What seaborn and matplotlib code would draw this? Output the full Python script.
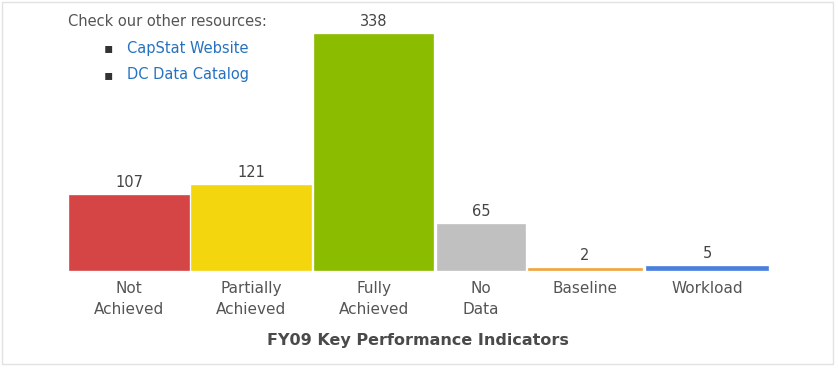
import matplotlib
matplotlib.use("Agg")
import matplotlib.pyplot as plt
import seaborn as sns
from matplotlib.patches import Rectangle

# Data
categories = ["Not\nAchieved", "Partially\nAchieved", "Fully\nAchieved", "No\nData", "Baseline", "Workload"]
counts = [107, 121, 338, 65, 2, 5]
bar_colors = ["#D64545", "#F4D60F", "#8CBC00", "#C0C0C0", "#F0A43C", "#4A7FE0"]
title = "FY09 Key Performance Indicators"
links = ["CapStat Website", "DC Data Catalog"]

# layout: bar widths and gaps (axis units, roughly pixels)
bar_widths = [119, 119, 118, 87, 113, 121]
bar_gaps = [0.5, 3, 4, 5, 4, 5]

sns.set_style("white")
plt.rcParams["font.family"] = ["DejaVu Sans"]

fig = plt.figure(figsize=(8.38, 3.68), dpi=100)
ax = fig.add_axes([69 / 838, 1 - 270 / 368, 699 / 838, 235 / 368])

sns.barplot(x=list(range(len(categories))), y=counts, hue=list(range(len(categories))),
            palette=bar_colors, legend=False, ax=ax, saturation=1, width=0.9)

# place bars with their own widths
left = 0
centers = []
for patch, w, g, col in zip(ax.patches, bar_widths, bar_gaps, bar_colors):
    left += g
    patch.set_x(left)
    patch.set_width(w)
    patch.set_edgecolor(col)
    patch.set_linewidth(1.2)
    patch.set_clip_on(False)
    centers.append(left + w / 2)
    left += w

ax.set_xlim(0, left + 0.5)
ax.set_ylim(0, max(counts))
ax.set_xticks(centers)
ax.set_xticklabels(categories, fontsize=11, color="#555555", linespacing=1.45)
ax.tick_params(axis="x", length=0, pad=8)
ax.set_yticks([])
for s in ax.spines.values():
    s.set_visible(False)

for c, v in zip(centers, counts):
    ax.annotate(str(v), (c, v), xytext=(0, 4), textcoords="offset points",
                ha="center", va="bottom", fontsize=10.5, color="#444444")

fig.text(418 / 838, 1 - 341 / 368, title, ha="center", va="center",
         fontsize=11.5, fontweight="bold", color="#4a4a4a")

# resource note at top left
fig.text(68 / 838, 1 - 21 / 368, "Check our other resources:", ha="left", va="center",
         fontsize=10.5, color="#555555")
for i, name in enumerate(links):
    y = 1 - (48 + 27 * i) / 368
    fig.text(104 / 838, y, "\u25aa", ha="left", va="center", fontsize=10, color="#333333")
    fig.text(127 / 838, y, name, ha="left", va="center", fontsize=10.5, color="#2672C0")

# light frame around the picture
fig.patches.append(Rectangle((2 / 838, 4 / 368), 831 / 838, 362 / 368, transform=fig.transFigure,
                             fill=False, edgecolor="#e2e2e2", linewidth=1))

fig.savefig("out.png", dpi=100)
